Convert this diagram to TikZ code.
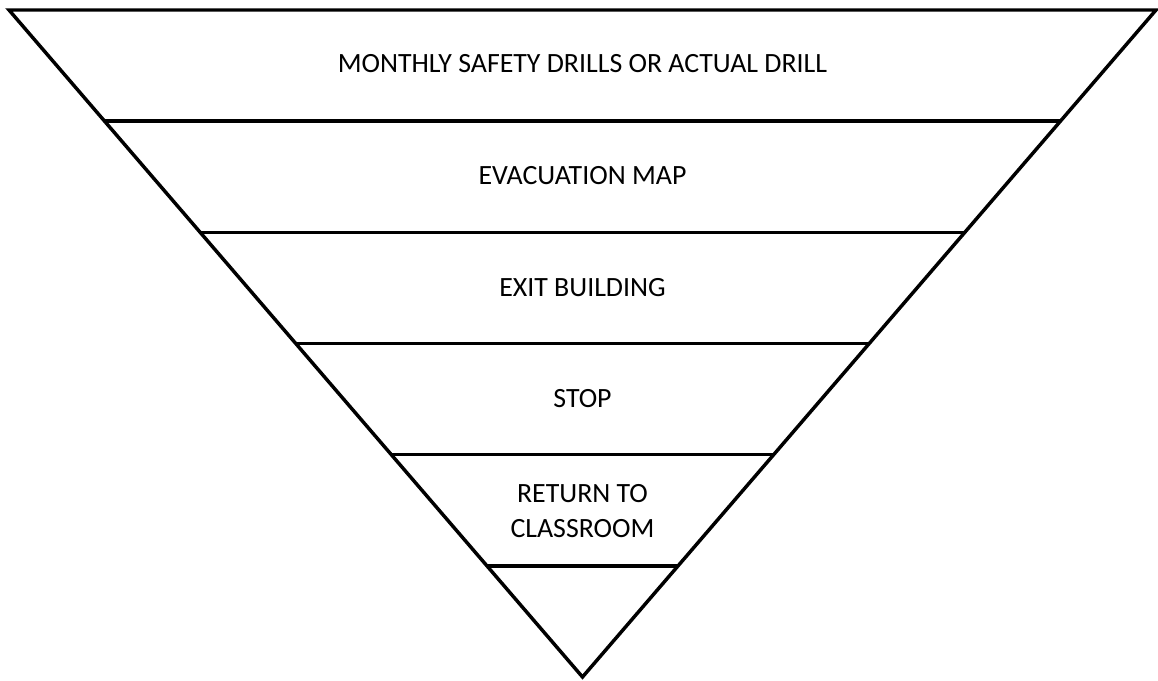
\documentclass[tikz,border=0pt]{standalone}
\usepackage{fontspec}
\setmainfont{Carlito}
\usetikzlibrary{calc}

\begin{document}
\begin{tikzpicture}[x=0.75pt,y=-0.75pt,line width=2.6pt,
        lbl/.style={font=\fontsize{20.9}{26.5}\selectfont,align=center}]
        \useasboundingbox (0,0) rectangle (1158,681);
        \coordinate (TL) at (9,10);
        \coordinate (TR) at (1156,10);
        \coordinate (A) at (582.5,677);
        
        \draw[miter limit=10] (TL) -- (TR) -- (A) -- cycle;
        
        \foreach \k in {1,...,5}
            \draw ($(TL)!\k/6!(A)$) -- ($(TR)!\k/6!(A)$);
        
        \node[lbl] (drill) at (582.5,64) {MONTHLY SAFETY DRILLS OR ACTUAL DRILL};
        \node[lbl] (map) at (582.5,176) {EVACUATION MAP};
        \node[lbl] (exit) at (582.5,288) {EXIT BUILDING};
        \node[lbl] (stop) at (582.5,399) {STOP};
        \node[lbl] (back) at (582.5,511) {RETURN TO\\CLASSROOM};
    \end{tikzpicture}
\end{document}
